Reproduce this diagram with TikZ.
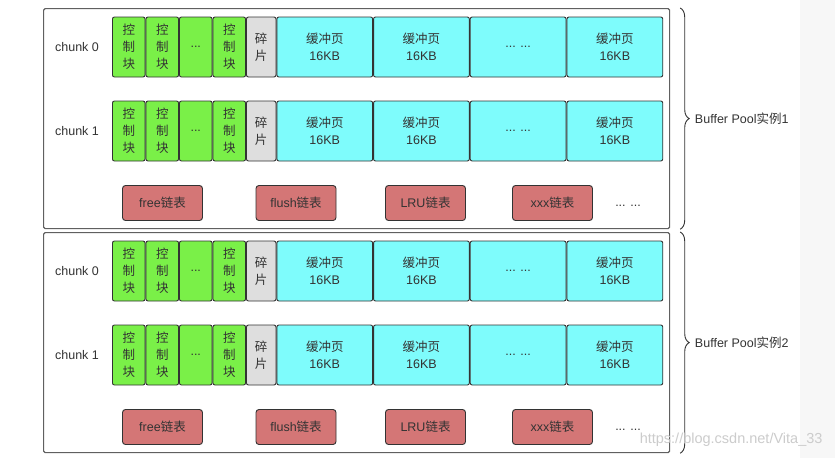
\documentclass[tikz,border=0pt]{standalone}
\usepackage{fontspec}
\setmainfont{Liberation Sans}
\newfontfamily\cjk{Noto Sans CJK SC}
\usepackage{xcolor}
\usetikzlibrary{positioning,decorations.pathreplacing}
\definecolor{ctrlgreen}{RGB}{122,240,72}
\definecolor{pagecyan}{RGB}{126,252,252}
\definecolor{fraggray}{RGB}{222,222,222}
\definecolor{listred}{RGB}{212,118,118}
\definecolor{inkgray}{RGB}{51,51,51}

\begin{document}
\begin{tikzpicture}[x=1pt, y=-1pt,
    blk/.style={rectangle, draw=inkgray, line width=0.9pt, rounded corners=2pt, minimum height=60pt, inner sep=0pt, align=center, text=inkgray, font=\fontsize{12.5}{17}\selectfont},
    ctrl/.style={blk, fill=ctrlgreen, minimum width=32.6pt},
    frag/.style={blk, fill=fraggray, minimum width=29.5pt},
    page/.style={blk, fill=pagecyan, minimum width=95.8pt, font=\fontsize{12.5}{16.5}\selectfont},
    lst/.style={rectangle, draw=inkgray, line width=0.9pt, rounded corners=3pt, fill=listred, minimum width=80pt, minimum height=35pt, text=inkgray, font=\fontsize{12.5}{14}\selectfont},
    pool/.style={rectangle, draw=gray!75!black, line width=1.2pt, rounded corners=1.5pt, minimum width=626pt, minimum height=220pt, anchor=north west},
    lbl/.style={text=inkgray, font=\fontsize{12.5}{14}\selectfont}
]
    % canvas and margins
    \useasboundingbox (0,0) rectangle (835,458);
    \fill[white] (0,0) rectangle (835,458);
    \fill[gray!6] (800,0) rectangle (835,458);

    \foreach \p/\py in {1/0, 2/224} {
        % Buffer Pool instance frame
        \node[pool] (pool\p) at (43,8+\py) {};

        % chunk rows: control blocks, fragment, buffer pages
        \foreach \c/\cy in {0/47, 1/131} {
            \node[lbl] (ck\p\c) at (77,\cy+\py) {chunk \c};
            \node[ctrl, anchor=west] (a\p\c) at (112,\cy+\py) {\cjk 控\\\cjk 制\\\cjk 块};
            \node[ctrl, right=0pt of a\p\c] (b\p\c) {\cjk 控\\\cjk 制\\\cjk 块};
            \node[ctrl, right=0pt of b\p\c] (d\p\c) {...};
            \node[ctrl, right=0pt of d\p\c] (e\p\c) {\cjk 控\\\cjk 制\\\cjk 块};
            \node[frag, right=0pt of e\p\c] (f\p\c) {\cjk 碎\\\cjk 片};
            \node[page, right=0pt of f\p\c] (g\p\c) {{\cjk 缓冲页}\\16KB};
            \node[page, right=0pt of g\p\c] (h\p\c) {{\cjk 缓冲页}\\16KB};
            \node[page, right=0pt of h\p\c] (i\p\c) {... ...};
            \node[page, right=0pt of i\p\c] (j\p\c) {{\cjk 缓冲页}\\16KB};
        }

        % lists
        \node[lst] (free\p) at (162.5,203+\py) {free{\cjk 链表}};
        \node[lst] (flush\p) at (296,203+\py) {flush{\cjk 链表}};
        \node[lst] (lru\p) at (425.5,203+\py) {LRU{\cjk 链表}};
        \node[lst] (xxx\p) at (552.5,203+\py) {xxx{\cjk 链表}};
        \node[lbl] (more\p) at (628,206+\py) {... ...};

        % brace with instance name
        \draw[inkgray, line width=0.9pt, decorate, decoration={brace, amplitude=9pt}]
            ([xshift=10pt]pool\p.north east) -- ([xshift=10pt]pool\p.south east)
            node[midway, right=11pt, lbl] (name\p) {Buffer Pool{\cjk 实例}\p};
    }

    % watermark
    \node[text=gray!40, font=\fontsize{14.5}{16}\selectfont, anchor=east] (mark) at (826,440) {https://blog.csdn.net/Vita\_33};
\end{tikzpicture}
\end{document}
